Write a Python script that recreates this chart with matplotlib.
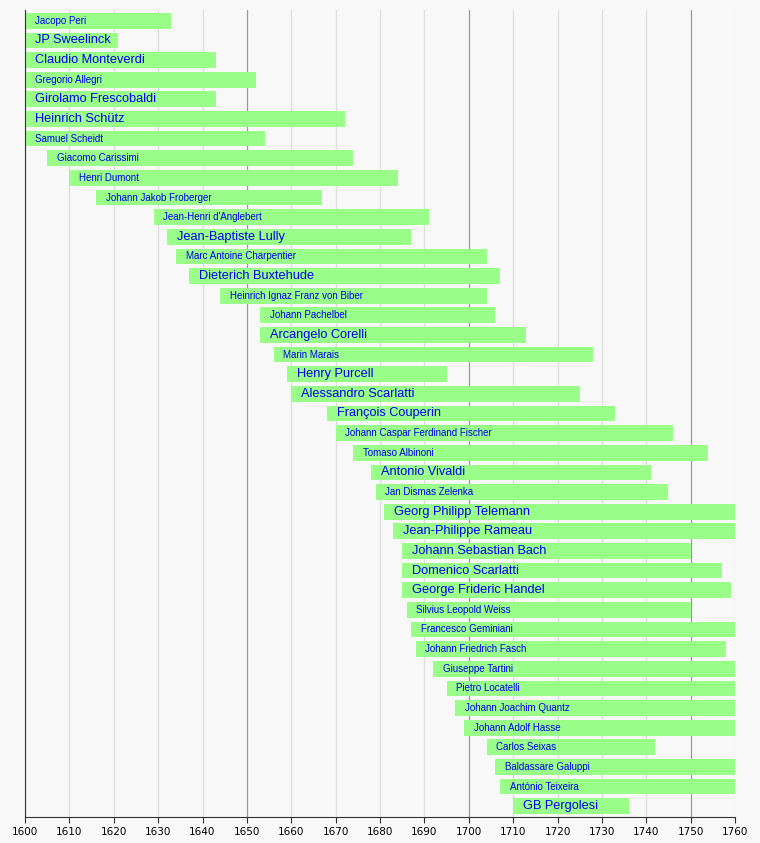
import matplotlib
matplotlib.use("Agg")
import matplotlib.pyplot as plt

names = ["Jacopo Peri","JP Sweelinck","Claudio Monteverdi","Gregorio Allegri","Girolamo Frescobaldi",
"Heinrich Schütz","Samuel Scheidt","Giacomo Carissimi","Henri Dumont","Johann Jakob Froberger",
"Jean-Henri d'Anglebert","Jean-Baptiste Lully","Marc Antoine Charpentier","Dieterich Buxtehude",
"Heinrich Ignaz Franz von Biber","Johann Pachelbel","Arcangelo Corelli","Marin Marais","Henry Purcell",
"Alessandro Scarlatti","François Couperin","Johann Caspar Ferdinand Fischer","Tomaso Albinoni",
"Antonio Vivaldi","Jan Dismas Zelenka","Georg Philipp Telemann","Jean-Philippe Rameau",
"Johann Sebastian Bach","Domenico Scarlatti","George Frideric Handel","Silvius Leopold Weiss",
"Francesco Geminiani","Johann Friedrich Fasch","Giuseppe Tartini","Pietro Locatelli",
"Johann Joachim Quantz","Johann Adolf Hasse","Carlos Seixas","Baldassare Galuppi","António Teixeira",
"GB Pergolesi"]
births = [1561,1562,1567,1582,1583,1585,1587,1605,1610,1616,1629,1632,1634,1637,1644,1653,1653,1656,1659,
1660,1668,1670,1674,1678,1679,1681,1683,1685,1685,1685,1686,1687,1688,1692,1695,1697,1699,1704,1706,1707,1710]
deaths = [1633,1621,1643,1652,1643,1672,1654,1674,1684,1667,1691,1687,1704,1707,1704,1706,1713,1728,1695,
1725,1733,1746,1754,1741,1745,1767,1764,1750,1757,1759,1750,1762,1758,1770,1764,1773,1783,1742,1785,1774,1736]
big = {"JP Sweelinck","Claudio Monteverdi","Girolamo Frescobaldi","Heinrich Schütz","Jean-Baptiste Lully",
"Dieterich Buxtehude","Arcangelo Corelli","Henry Purcell","Alessandro Scarlatti","François Couperin",
"Antonio Vivaldi","Georg Philipp Telemann","Jean-Philippe Rameau","Johann Sebastian Bach",
"Domenico Scarlatti","George Frideric Handel","GB Pergolesi"}

fig = plt.figure(figsize=(7.6, 8.43), dpi=100, facecolor="#f8f8f8")
ax = fig.add_axes([25/760, 26/843, 710/760, 807/843])
ax.set_facecolor("#f8f8f8")
ax.set_xlim(1600, 1760)
n = len(names)
ax.set_ylim(n - 0.45, -0.55)
for yr in range(1600, 1761, 10):
    ax.axvline(yr, color="#999999" if yr % 50 == 0 else "#dddddd", lw=0.9, zorder=0)
for i, (nm, b, d) in enumerate(zip(names, births, deaths)):
    ax.barh(i, d - b, left=b, height=0.8, color="#99ff88", zorder=2)
    x0 = max(b, 1600)
    ax.text(x0 + 2.2, i, nm, color="#0000ee", va="center", ha="left",
            fontsize=9.2 if nm in big else 7, zorder=3, clip_on=False,
            fontfamily="Liberation Sans")
ax.set_xticks(range(1600, 1761, 10))
ax.tick_params(axis="x", labelsize=7.5, length=4, color="#333333")
ax.set_yticks([])
for s in ["top", "right"]:
    ax.spines[s].set_visible(False)
ax.spines["left"].set_color("#333333")
ax.spines["bottom"].set_color("#333333")
fig.savefig("out.png", dpi=100, facecolor=fig.get_facecolor())
